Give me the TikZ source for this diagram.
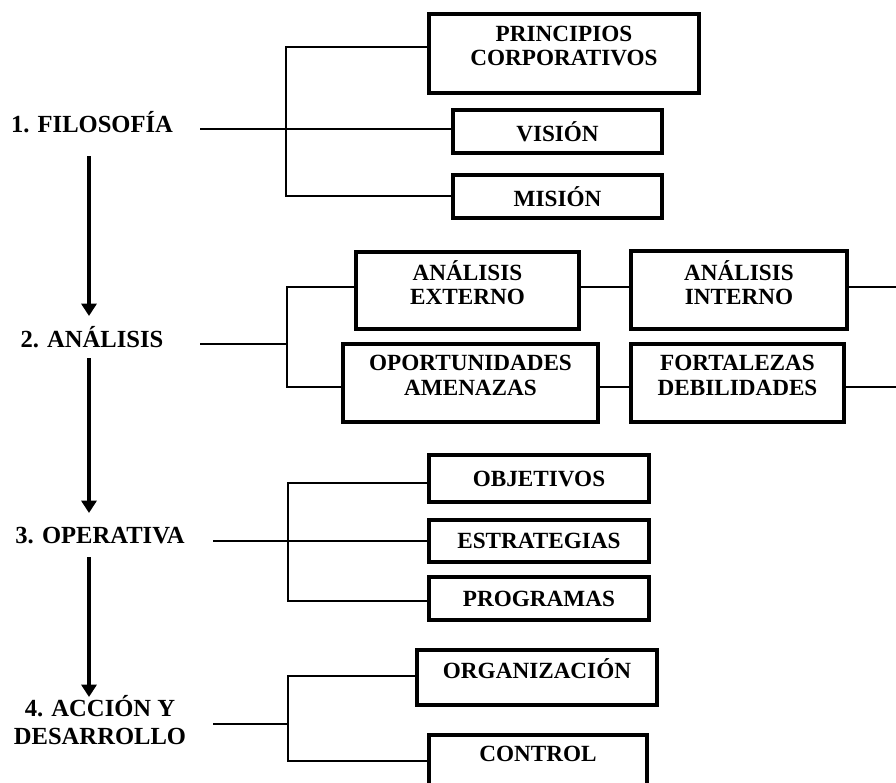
\documentclass[tikz,border=0pt]{standalone}
\usepackage{fontspec}
\setmainfont{Liberation Serif}
\usetikzlibrary{arrows.meta,positioning}
\tikzset{
  stage/.style={font=\fontsize{14}{16}\selectfont\bfseries, align=center, inner sep=0pt},
  item/.style={draw, line width=2.6pt, align=center, inner sep=0pt,
    font=\fontsize{13.2}{13.8}\selectfont\bfseries},
  conn/.style={line width=0.6pt},
  flow/.style={line width=2.3pt, -{Triangle[width=8.5pt,length=7pt]}}
}

\begin{document}
\begin{tikzpicture}[x=0.02cm, y=-0.02cm]
  \useasboundingbox (0,0) rectangle (896,782);
  \clip (0,0) rectangle (896,782);
  % ---- stages on the left ----
  \node[stage] (fil) at (92,122) {1. FILOSOF\'IA};
  \node[stage] (ana) at (92,337) {2. AN\'ALISIS};
  \node[stage] (ope) at (100,536) {3. OPERATIVA};
  \node[stage] (acc) at (100,720) {4. ACCI\'ON Y\\DESARROLLO};
  \coordinate (a1s) at (89,156);  \coordinate (a1e) at (89,316);
  \coordinate (a2s) at (89,358);  \coordinate (a2e) at (89,513);
  \coordinate (a3s) at (89,557);  \coordinate (a3e) at (89,697);
  \draw[flow] (a1s) -- (a1e);
  \draw[flow] (a2s) -- (a2e);
  \draw[flow] (a3s) -- (a3e);
  % ---- 1. filosofia ----
  \node[item, minimum width=5.4cm, minimum height=1.58cm] (pri) at (564,53.5)
    {PRINCIPIOS\\CORPORATIVOS\\[-5pt]\mbox{}};
  \node[item, minimum width=4.18cm, minimum height=0.86cm] (vis) at (557.5,131.5) {VISI\'ON};
  \node[item, minimum width=4.18cm, minimum height=0.86cm] (mis) at (557.5,196.5) {MISI\'ON};
  \coordinate (f0) at (200,129);
  \coordinate (b1t) at (286,47);  \coordinate (b1b) at (286,196);
  \draw[conn] (f0) -- (f0 -| vis.west);
  \draw[conn] (b1t -| pri.west) -- (b1t) -- (b1b) -- (b1b -| mis.west);
  % ---- 2. analisis ----
  \node[item, minimum width=4.46cm, minimum height=1.54cm] (ext) at (467.5,290.5)
    {AN\'ALISIS\\EXTERNO\\[-5pt]\mbox{}};
  \node[item, minimum width=4.32cm, minimum height=1.56cm] (int) at (739,290)
    {AN\'ALISIS\\INTERNO\\[-5pt]\mbox{}};
  \node[item, minimum width=5.1cm, minimum height=1.56cm] (opo) at (470.5,383)
    {OPORTUNIDADES\\AMENAZAS\\[-5pt]\mbox{}};
  \node[item, minimum width=4.26cm, minimum height=1.56cm] (fort) at (737.5,383)
    {FORTALEZAS\\DEBILIDADES\\[-5pt]\mbox{}};
  \coordinate (f1) at (200,344);  \coordinate (b2m) at (287,344);
  \coordinate (b2t) at (287,287); \coordinate (b2b) at (287,387);
  \coordinate (r2t) at (896,287); \coordinate (r2b) at (896,387);
  \draw[conn] (f1) -- (b2m);
  \draw[conn] (b2t -| ext.west) -- (b2t) -- (b2b) -- (b2b -| opo.west);
  \draw[conn] (b2t -| ext.east) -- (b2t -| int.west);
  \draw[conn] (b2b -| opo.east) -- (b2b -| fort.west);
  \draw[conn] (b2t -| int.east) -- (r2t);
  \draw[conn] (b2b -| fort.east) -- (r2b);
  % ---- 3. operativa ----
  \node[item, minimum width=4.4cm, minimum height=0.94cm] (obj) at (539,478.5) {OBJETIVOS};
  \node[item, minimum width=4.4cm, minimum height=0.84cm] (est) at (539,541) {ESTRATEGIAS};
  \node[item, minimum width=4.4cm, minimum height=0.86cm] (pro) at (539,598.5) {PROGRAMAS};
  \coordinate (f2) at (213,541);
  \coordinate (b3t) at (288,483); \coordinate (b3b) at (288,601);
  \draw[conn] (f2) -- (est.west);
  \draw[conn] (b3t -| obj.west) -- (b3t) -- (b3b) -- (b3b -| pro.west);
  % ---- 4. accion y desarrollo ----
  \node[item, minimum width=4.8cm, minimum height=1.1cm] (org) at (537,677.5)
    {ORGANIZACI\'ON\\[-4pt]\mbox{}};
  \node[item, minimum width=4.36cm, minimum height=1.08cm] (ctl) at (538,762)
    {CONTROL\\[-4pt]\mbox{}};
  \coordinate (f3) at (213,724);  \coordinate (b4m) at (288,724);
  \coordinate (b4t) at (288,676); \coordinate (b4b) at (288,761);
  \draw[conn] (f3) -- (b4m);
  \draw[conn] (b4t -| org.west) -- (b4t) -- (b4b) -- (b4b -| ctl.west);
\end{tikzpicture}
\end{document}
